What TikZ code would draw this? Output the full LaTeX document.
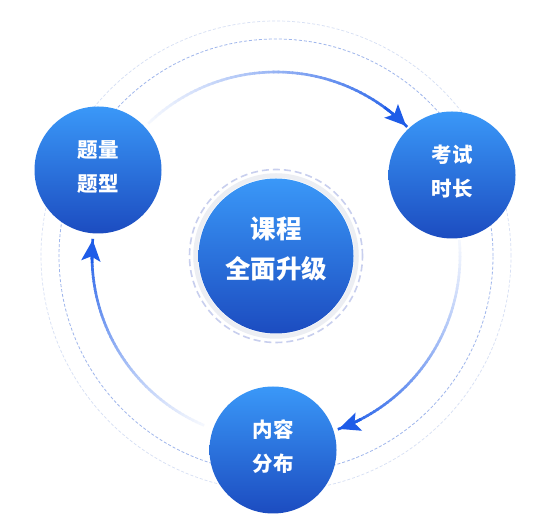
\documentclass[tikz,border=0pt]{standalone}
\usepackage{fontspec}
\newfontfamily\cjk{Noto Sans CJK SC}
\usetikzlibrary{arrows.meta,calc}
\definecolor{ctop}{HTML}{3A98F8}
\definecolor{cbot}{HTML}{1C4CC0}
\definecolor{arrowblue}{HTML}{1E5CE8}
\definecolor{ringblue}{HTML}{9FB6EC}
\definecolor{ringfaint}{HTML}{D6DFF4}
\definecolor{centerdash}{HTML}{C8CFEE}
\definecolor{centergray}{HTML}{ECEEF3}
\tikzset{
  bubble/.style={circle, minimum size=127pt, inner sep=0pt, top color=ctop, bottom color=cbot},
  bigbubble/.style={bubble, minimum size=155pt},
  lbl/.style={text=white, align=center, inner sep=0pt, yshift=3pt,
     font=\cjk\bfseries\fontsize{20.5}{34}\selectfont},
  biglbl/.style={lbl, yshift=4pt, font=\cjk\bfseries\fontsize{25.5}{40}\selectfont},
  arcline/.style={line width=2.6pt, line cap=butt},
  tipstyle/.style={arrowblue, line width=2.6pt, -{Stealth[length=21pt,width=19pt,inset=4.5pt]}}
}
\newcommand\gradarc[3]{%
  \foreach \i in {1,...,60}{%
    \pgfmathsetmacro\aa{#1+(#2-#1)*(\i-1)/60}%
    \pgfmathsetmacro\ab{#1+(#2-#1)*(\i+0.3)/60}%
    \pgfmathsetmacro\pc{min(100,4+96*(\i/60)^1.2)}%
    \draw[arcline, draw=arrowblue!\pc!white] ($(O)+(\aa:#3)$) arc[start angle=\aa, end angle=\ab, radius=#3];
  }%
  \pgfmathsetmacro\ta{#2+((#1)-(#2))*0.1}%
  \draw[tipstyle] ($(O)+(\ta:#3)$) arc[start angle=\ta, end angle=#2, radius=#3];
}
\begin{document}
\begin{tikzpicture}[x=1pt,y=1pt]
\useasboundingbox (0,0) rectangle (545,529);
\fill[white] (0,0) rectangle (545,529);
\coordinate (O) at (276,273);
% outer rings
\draw[ringfaint, line width=0.7pt, dash pattern=on 3pt off 2pt] (O) circle[radius=235pt];
\draw[ringblue, line width=0.8pt, dash pattern=on 3pt off 2pt] (O) circle[radius=217pt];
% arcs
\gradarc{134}{45}{184pt}
\gradarc{5}{-70}{184pt}
\gradarc{-113}{-185}{184pt}
% center rings
\draw[centergray, line width=4.5pt] (O) circle[radius=80.5pt];
\draw[centerdash, line width=1.6pt, dash pattern=on 7pt off 4pt] (O) circle[radius=86.5pt];
% nodes
\node[bigbubble, label={[biglbl]center:课程\\全面升级}] (C) at (O) {};
\node[bubble, label={[lbl]center:题量\\题型}] (L) at (98,359) {};
\node[bubble, label={[lbl]center:考试\\时长}] (R) at (452,354) {};
\node[bubble, label={[lbl]center:内容\\分布}] (B) at (273,79) {};
\end{tikzpicture}
\end{document}
